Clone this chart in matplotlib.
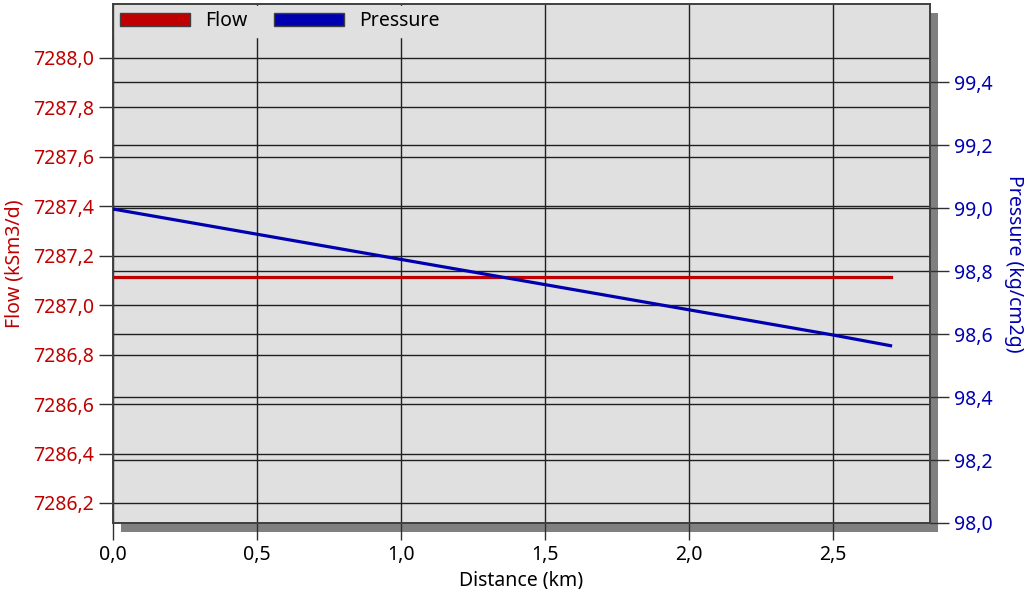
import matplotlib.pyplot as plt
from matplotlib.patches import Patch, Rectangle
from matplotlib.ticker import FuncFormatter

# data
distance = [0.0, 0.5, 1.0, 1.5, 2.0, 2.5, 2.7]
flow = [7287.114, 7287.114, 7287.114, 7287.114, 7287.114, 7287.114, 7287.114]
pressure = [98.997, 98.917, 98.837, 98.757, 98.677, 98.597, 98.563]

x_ticks = [0.0, 0.5, 1.0, 1.5, 2.0, 2.5]
flow_ticks = [7286.2, 7286.4, 7286.6, 7286.8, 7287.0, 7287.2, 7287.4, 7287.6, 7287.8, 7288.0]
pressure_ticks = [98.0, 98.2, 98.4, 98.6, 98.8, 99.0, 99.2, 99.4]

red = '#c00000'
blue = '#0000b0'
bg = '#e0e0e0'

plt.rcParams['font.family'] = ['Noto Sans', 'DejaVu Sans']
plt.rcParams['font.size'] = 14

fig = plt.figure(figsize=(10.24, 5.89), dpi=100)
fig.patch.set_facecolor('white')
ax1 = fig.add_axes([113 / 1024, (589 - 523) / 589, 817 / 1024, 519 / 589])
ax2 = ax1.twinx()

# drop shadow behind the plot area
shadow = Rectangle(((113 + 8) / 1024, (589 - 532) / 589), 817 / 1024, 519 / 589,
                   transform=fig.transFigure, facecolor='#808080', edgecolor='none', zorder=-5)
fig.add_artist(shadow)

comma = FuncFormatter(lambda v, p: f'{v:.1f}'.replace('.', ','))

ax1.set_facecolor(bg)
ax1.plot(distance, flow, color=red, linewidth=2.3, zorder=3)
ax1.set_xlim(0, 2.837)
ax1.set_ylim(7286.119, 7288.218)
ax1.set_xticks(x_ticks)
ax1.set_yticks(flow_ticks)
ax1.xaxis.set_major_formatter(comma)
ax1.yaxis.set_major_formatter(comma)
ax1.grid(True, color='#202020', linewidth=1)
ax1.set_axisbelow(True)
ax1.tick_params(axis='y', colors='#303030', labelcolor=red, length=10, width=1, labelsize=14)
ax1.tick_params(axis='x', colors='#303030', labelcolor='black', length=12, width=1, labelsize=14)
ax1.set_ylabel('Flow (kSm3/d)', color=red, fontsize=14, labelpad=6)
ax1.set_xlabel('Distance (km)', color='black', fontsize=14, labelpad=4)

ax2.plot(distance, pressure, color=blue, linewidth=2.3, zorder=3)
ax2.set_ylim(98.0, 99.648)
ax2.set_yticks(pressure_ticks)
ax2.yaxis.set_major_formatter(comma)
ax2.grid(True, axis='y', color='#202020', linewidth=1)
ax2.tick_params(axis='y', colors='#303030', labelcolor=blue, length=14, width=1, labelsize=14)
ax2.set_ylabel('Pressure (kg/cm2g)', color=blue, fontsize=14, rotation=270, labelpad=22)

for ax in (ax1, ax2):
    for s in ax.spines.values():
        s.set_color('#404040')
        s.set_linewidth(1.2)

handles = [Patch(facecolor=red, edgecolor='#404040', label='Flow'),
           Patch(facecolor=blue, edgecolor='#404040', label='Pressure')]
leg = ax2.legend(handles=handles, loc='upper left', ncol=2, frameon=True, fancybox=False,
                 facecolor=bg, edgecolor=bg, framealpha=1, fontsize=14,
                 handlelength=3.6, handleheight=0.6, handletextpad=0.75,
                 columnspacing=1.4, borderaxespad=0.1, borderpad=0.28)
leg.set_zorder(10)

fig.savefig('out.png', dpi=100)
